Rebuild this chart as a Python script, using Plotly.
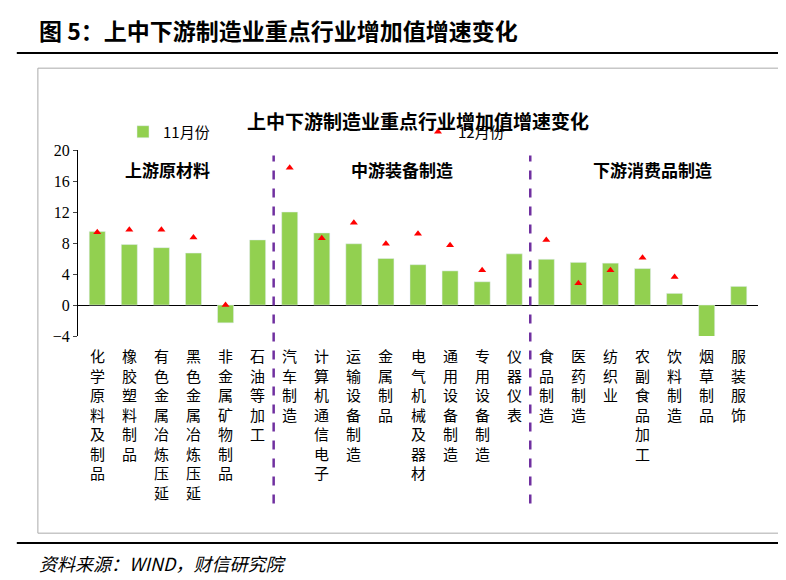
import plotly.graph_objects as go

cats = ['化学原料及制品', '橡胶塑料制品', '有色金属冶炼压延', '黑色金属冶炼压延', '非金属矿物制品',
        '石油等加工', '汽车制造', '计算机通信电子', '运输设备制造', '金属制品', '电气机械及器材',
        '通用设备制造', '专用设备制造', '仪器仪表', '食品制造', '医药制造', '纺织业',
        '农副食品加工', '饮料制造', '烟草制品', '服装服饰']
nov = [9.5, 7.8, 7.4, 6.7, -2.3, 8.4, 12.0, 9.3, 7.9, 6.0, 5.2, 4.4, 3.0, 6.6,
       5.9, 5.5, 5.4, 4.7, 1.5, -4.3, 2.4]
dec = [9.4, 9.7, 9.7, 8.7, 0.0, None, 17.7, 8.6, 10.6, 7.9, 9.2, 7.7, 4.5, None,
       8.4, 2.8, 4.5, 6.1, 3.6, None, None]
groups = [('上游原材料', 2.2), ('中游装备制造', 9.5), ('下游消费品制造', 17.3)]
dividers = [5.5, 13.5]

CJK = 'Noto Sans CJK SC'
fig = go.Figure()
fig.add_bar(x=list(range(len(cats))), y=nov, name='11月份', marker_color='#92D050', width=0.5)
fig.add_scatter(x=list(range(len(cats))), y=dec, name='12月份', mode='markers',
                marker=dict(symbol='triangle-up', color='#FF0000', size=7))

ann = []
for i, c in enumerate(cats):
    ann.append(dict(x=i, y=-0.035, xref='x', yref='paper', text='<br>'.join(c), showarrow=False,
                    yanchor='top', font=dict(family=CJK, size=15, color='black')))
for t, xp in groups:
    ann.append(dict(x=xp, y=17.5, xref='x', yref='y', text='<b>' + t + '</b>', showarrow=False,
                    font=dict(family=CJK, size=17, color='black')))
ann += [
    dict(xref='paper', yref='paper', x=-0.06, y=1.645, xanchor='left', yanchor='middle', showarrow=False,
         text='<b>图 5：上中下游制造业重点行业增加值增速变化</b>', font=dict(family=CJK, size=23, color='black')),
    dict(xref='paper', yref='paper', x=0.5, y=1.242, showarrow=False,
         text='<b>上中下游制造业重点行业增加值增速变化</b>', font=dict(family=CJK, size=19, color='black')),
    dict(xref='paper', yref='paper', x=-0.06, y=-1.22, xanchor='left', yanchor='middle', showarrow=False,
         text='<i>资料来源：WIND，财信研究院</i>', font=dict(family=CJK, size=18, color='black')),
]

shapes = [dict(type='line', xref='x', yref='paper', x0=d, x1=d, y0=-0.9, y1=0.97,
               line=dict(color='#7030A0', width=2.5, dash='dash')) for d in dividers]
shapes += [
    dict(type='line', xref='paper', yref='paper', x0=-0.09, x1=1.04, y0=1.522, y1=1.522,
         line=dict(color='black', width=2)),
    dict(type='line', xref='paper', yref='paper', x0=-0.09, x1=1.04, y0=-1.113, y1=-1.113,
         line=dict(color='black', width=2)),
    dict(type='rect', xref='paper', yref='paper', x0=-0.059, x1=1.037, y0=-1.06, y1=1.44,
         line=dict(color='#AAAAAA', width=1)),
]

fig.update_layout(
    width=786, height=580, paper_bgcolor='white', plot_bgcolor='white',
    margin=dict(l=70, r=36, t=142, b=252),
    showlegend=True,
    legend=dict(orientation='h', x=0.5, xanchor='center', y=1.097, yanchor='middle',
                font=dict(family=CJK, size=15, color='black'), entrywidth=250),
    xaxis=dict(range=[-0.6, 20.6], showticklabels=False, showgrid=False, zeroline=False),
    yaxis=dict(range=[-4, 20], tickvals=[-4, 0, 4, 8, 12, 16, 20], showgrid=False,
               zeroline=True, zerolinecolor='black', zerolinewidth=1,
               showline=True, linecolor='black', ticks='outside', ticklen=4,
               tickfont=dict(family='Liberation Serif', size=16, color='black')),
    annotations=ann, shapes=shapes, bargap=0.4,
)
fig.write_html('out.html')
